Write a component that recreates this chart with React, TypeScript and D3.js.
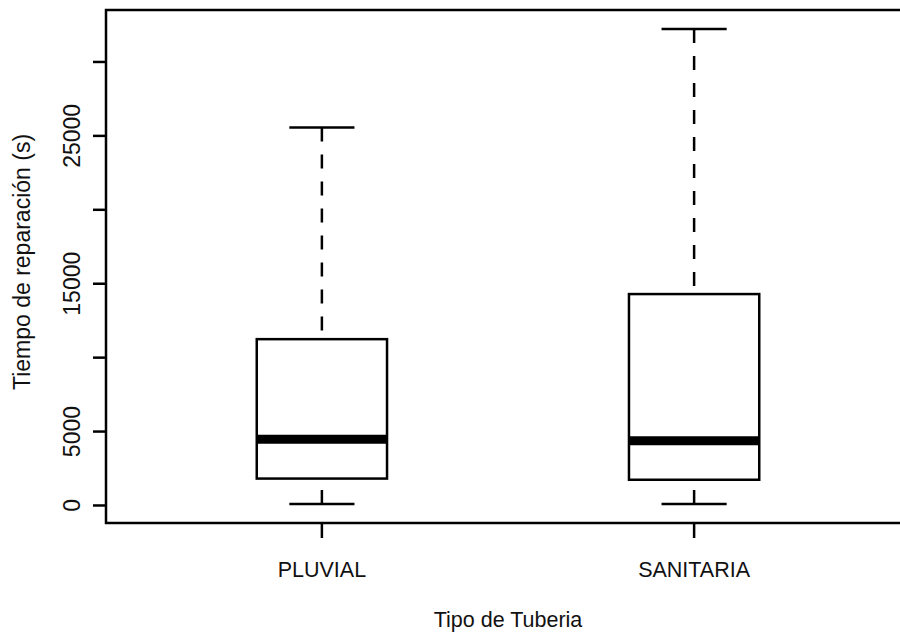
import * as d3 from "d3";
import {useEffect, useRef} from "react";

// boxplot stats
const categories = ["PLUVIAL", "SANITARIA"];
const whiskerLow = [100, 100];
const q1 = [1820, 1740];
const median = [4480, 4370];
const q3 = [11250, 14300];
const whiskerHigh = [25570, 32230];

const yTicks = [0, 5000, 10000, 15000, 20000, 25000, 30000];
const yTickLabels = ["0", "5000", "", "15000", "", "25000", ""];

const xTitle = "Tipo de Tuberia";
const yTitle = "Tiempo de reparación (s)";

export default function App() {
    const chartRef = useRef<SVGSVGElement>(null);

    const baseWidth = 900;
    const baseHeight = 634;
    const plot = {left: 106, right: 910, top: 10, bottom: 523};
    const font = "'Liberation Sans', Arial, sans-serif";

    useEffect(() => {
        if (!chartRef.current) return;
        const svg = d3.select(chartRef.current);
        svg.selectAll("*").remove();

        const n = categories.length;
        // R style: extend range 4% each side
        const xScale = d3.scaleLinear()
            .domain([0.5 - 0.04 * n, n + 0.5 + 0.04 * n])
            .range([plot.left, plot.right]);

        const lo = d3.min(whiskerLow) as number;
        const hi = d3.max(whiskerHigh) as number;
        const pad = (hi - lo) * 0.04;
        const yScale = d3.scaleLinear()
            .domain([lo - pad, hi + pad])
            .range([plot.bottom, plot.top]);

        const boxHalf = 0.175;
        const stapleHalf = boxHalf / 2;

        const data = categories.map((c, i) => ({
            name: c, pos: i + 1,
            low: whiskerLow[i], q1: q1[i], med: median[i], q3: q3[i], high: whiskerHigh[i]
        }));

        const g = svg.selectAll(".box")
            .data(data)
            .join("g")
            .attr("class", "box");

        // whiskers, dashed
        g.append("line")
            .attr("x1", d => xScale(d.pos))
            .attr("x2", d => xScale(d.pos))
            .attr("y1", d => yScale(d.high))
            .attr("y2", d => yScale(d.q3))
            .attr("stroke", "#000")
            .attr("stroke-width", 2.5)
            .attr("stroke-dasharray", "14,13");

        g.append("line")
            .attr("x1", d => xScale(d.pos))
            .attr("x2", d => xScale(d.pos))
            .attr("y1", d => yScale(d.low))
            .attr("y2", d => yScale(d.q1))
            .attr("stroke", "#000")
            .attr("stroke-width", 2.5)
            .attr("stroke-dasharray", "14,13");

        // staples
        ["low", "high"].forEach(k => {
            g.append("line")
                .attr("x1", d => xScale(d.pos - stapleHalf))
                .attr("x2", d => xScale(d.pos + stapleHalf))
                .attr("y1", (d: any) => yScale(d[k]))
                .attr("y2", (d: any) => yScale(d[k]))
                .attr("stroke", "#000")
                .attr("stroke-width", 2.5);
        });

        g.append("rect")
            .attr("x", d => xScale(d.pos - boxHalf))
            .attr("y", d => yScale(d.q3))
            .attr("width", xScale(1 + boxHalf) - xScale(1 - boxHalf))
            .attr("height", d => yScale(d.q1) - yScale(d.q3))
            .attr("fill", "#fff")
            .attr("stroke", "#000")
            .attr("stroke-width", 2.5);

        g.append("line")
            .attr("x1", d => xScale(d.pos - boxHalf))
            .attr("x2", d => xScale(d.pos + boxHalf))
            .attr("y1", d => yScale(d.med))
            .attr("y2", d => yScale(d.med))
            .attr("stroke", "#000")
            .attr("stroke-width", 9);

        // frame (right side falls outside the picture)
        svg.append("path")
            .attr("d", `M${plot.right},${plot.top}H${plot.left}V${plot.bottom}H${plot.right}`)
            .attr("fill", "none")
            .attr("stroke", "#000")
            .attr("stroke-width", 2.5);

        // y axis
        const yAxis = svg.append("g");
        yAxis.selectAll("line")
            .data(yTicks)
            .join("line")
            .attr("x1", plot.left - 13)
            .attr("x2", plot.left)
            .attr("y1", d => yScale(d))
            .attr("y2", d => yScale(d))
            .attr("stroke", "#000")
            .attr("stroke-width", 2.5);
        yAxis.selectAll("text")
            .data(yTicks)
            .join("text")
            .attr("transform", d => `translate(80,${yScale(d)}) rotate(-90)`)
            .attr("text-anchor", "middle")
            .attr("font-family", font)
            .attr("font-size", 23)
            .attr("fill", "#111")
            .text((_, i) => yTickLabels[i]);

        // x axis
        const xAxis = svg.append("g");
        xAxis.selectAll("line")
            .data(data)
            .join("line")
            .attr("x1", d => xScale(d.pos))
            .attr("x2", d => xScale(d.pos))
            .attr("y1", plot.bottom)
            .attr("y2", plot.bottom + 15)
            .attr("stroke", "#000")
            .attr("stroke-width", 2.5);
        xAxis.selectAll("text")
            .data(data)
            .join("text")
            .attr("x", d => xScale(d.pos))
            .attr("y", 577)
            .attr("text-anchor", "middle")
            .attr("font-family", font)
            .attr("font-size", 21.5)
            .attr("fill", "#111")
            .text(d => d.name);

        svg.append("text")
            .attr("x", (plot.left + plot.right) / 2)
            .attr("y", 627)
            .attr("text-anchor", "middle")
            .attr("font-family", font)
            .attr("font-size", 21.5)
            .attr("fill", "#111")
            .text(xTitle);

        svg.append("text")
            .attr("transform", `translate(30,262) rotate(-90)`)
            .attr("text-anchor", "middle")
            .attr("font-family", font)
            .attr("font-size", 23)
            .attr("fill", "#111")
            .text(yTitle);
    }, []);

    return (
        <svg ref={chartRef} width={baseWidth} height={baseHeight}
             style={{position: "absolute", left: 0, top: 0, background: "#fff"}}/>
    );
}
